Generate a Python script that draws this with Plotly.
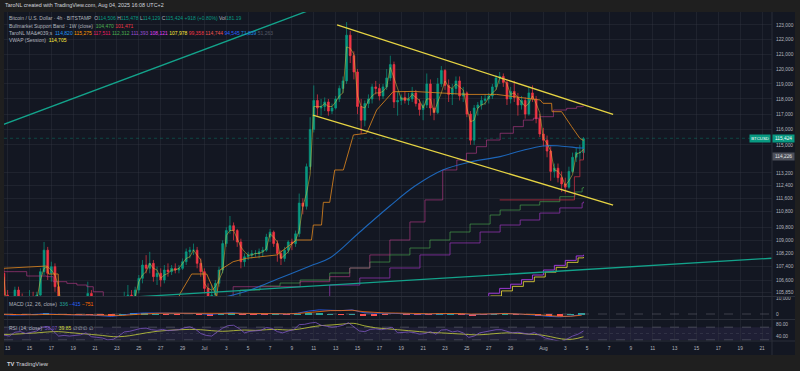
import math
import pandas as pd
import plotly.graph_objects as go

# ---------------- data (prices in thousands of USD) ----------------
CANDLE_START = "2025-06-12 16:00"   # 8h candles
FIRST_OPEN = 107.0
HIGHS = [107.3,106.0,105.4,106.2,106.2,105.8,105.6,106.0,105.9,105.9,
         107.3,108.9,108.6,107.7,107.6,106.5,105.2,105.6,105.3,105.1,
         105.0,105.1,105.3,106.5,106.0,104.0,103.9,103.0,102.5,101.2,
         101.4,101.9,102.8,105.9,106.3,106.0,106.2,106.9,107.8,108.1,
         108.3,107.8,107.4,107.3,107.5,107.6,107.5,107.6,107.5,107.9,
         108.5,108.6,108.8,108.6,107.9,107.3,106.4,106.3,106.6,107.4,
         109.0,109.8,110.5,110.1,109.7,109.1,108.2,108.3,108.4,108.4,
         108.5,108.6,109.4,109.7,109.6,109.0,108.4,108.6,109.0,109.1,
         109.6,111.9,111.6,113.8,116.8,118.9,118.3,118.0,118.1,118.0,
         117.7,118.2,118.9,119.5,123.2,122.6,121.2,120.0,118.0,117.9,
         118.3,119.0,119.2,119.0,119.0,120.0,120.9,120.5,118.5,118.3,
         118.5,118.4,118.8,118.6,118.0,117.9,119.7,119.3,118.0,119.4,
         120.2,120.0,119.3,119.0,119.5,119.5,118.8,118.5,117.2,117.6,
         117.8,118.2,118.3,118.4,119.0,119.6,119.8,119.7,119.3,118.8,
         119.2,118.4,118.2,118.1,118.8,118.9,118.2,117.0,116.1,115.6,
         114.9,113.8,113.8,113.3,112.9,113.6,114.5,114.8,115.0,115.5]
LOWS = [105.2,102.7,103.6,104.6,105.2,104.3,104.6,105.1,104.7,104.9,
        105.5,106.9,106.6,106.5,105.9,103.4,103.6,104.0,104.2,104.2,
        104.1,104.3,104.2,104.9,102.4,103.0,102.5,101.0,99.5,98.2,
        99.3,100.2,101.0,102.2,104.9,105.0,105.2,105.8,106.4,107.0,
        107.0,106.5,106.3,106.2,106.4,106.8,106.9,107.0,107.0,107.2,
        107.5,107.9,108.1,107.3,106.8,105.8,105.3,105.2,105.5,106.2,
        107.0,108.6,109.4,109.0,108.6,107.3,107.4,107.8,107.9,108.0,
        107.9,108.0,108.3,108.9,108.6,107.7,107.5,107.7,108.2,108.4,
        108.6,109.2,110.6,110.9,113.4,115.8,116.9,116.9,117.2,116.9,
        117.0,117.3,117.8,118.4,119.0,120.4,119.3,117.0,115.7,116.2,
        117.4,117.7,118.3,117.9,118.0,118.6,119.2,117.4,116.9,117.6,
        117.7,117.6,117.8,117.5,116.9,116.6,117.4,116.9,116.6,117.0,
        118.8,118.6,117.8,117.6,118.3,117.9,117.8,116.8,115.0,115.0,
        116.9,117.3,117.6,117.7,118.0,118.6,119.0,118.8,117.6,117.7,
        117.8,116.9,117.3,116.7,116.9,117.8,116.4,115.5,114.9,114.2,
        112.7,112.9,112.6,112.0,111.9,112.2,113.2,113.9,114.0,114.1]
CLOSES = [105.7,104.3,104.9,106.0,105.4,104.8,105.5,105.6,105.0,105.7,
          107.1,108.4,107.0,107.4,106.2,104.6,104.9,104.4,104.9,104.5,
          104.8,104.6,105.1,105.8,103.3,103.6,102.9,102.2,100.4,99.6,
          100.9,101.5,102.4,105.4,105.7,105.5,106.0,106.7,107.5,107.3,
          107.6,106.8,107.0,106.6,107.2,107.1,107.3,107.2,107.3,107.7,
          108.3,108.4,108.4,107.6,107.1,106.1,105.6,105.7,106.4,107.2,
          108.8,109.6,109.9,109.6,108.9,107.7,108.0,108.1,108.2,108.2,
          108.3,108.4,109.2,109.5,108.8,108.2,107.9,108.4,108.9,108.8,
          109.4,111.3,111.1,113.6,116.0,117.9,117.4,117.5,117.8,117.2,
          117.4,118.0,118.7,119.2,122.3,120.9,119.8,117.5,116.6,117.7,
          118.0,118.8,118.7,118.2,118.8,119.4,120.3,117.8,117.9,118.1,
          117.9,118.0,118.4,117.7,117.3,117.6,119.0,117.4,117.1,119.0,
          119.9,118.9,118.3,118.7,119.2,118.2,118.4,117.0,115.3,117.4,
          117.6,117.9,118.0,118.2,118.8,119.4,119.5,119.1,118.0,118.5,
          118.1,117.6,117.9,117.0,118.4,118.0,116.7,115.7,115.3,114.6,
          113.3,113.5,112.9,112.5,112.3,113.3,114.2,114.5,114.5,115.4]
VWAP = [106.8,
        104.3,104.5,104.8, 105.6,105.3,105.3, 105.6,105.4,105.4, 106.6,107.3,107.4,
        107.2,106.9,106.2, 104.6,104.6,104.7, 104.6,104.6,104.6, 104.9,105.3,104.8,
        103.5,103.3,102.9, 100.8,100.2,100.3, 101.2,101.6,102.6, 105.6,105.6,105.6,
        106.5,106.9,107.1, 107.6,107.3,107.2, 106.7,106.9,107.0, 107.2,107.2,107.3,
        107.6,107.9,108.0, 108.4,108.1,107.8, 106.4,106.1,106.0, 106.2,106.6,107.1,
        109.3,109.6,109.6, 109.1,108.6,108.3, 108.1,108.1,108.2, 108.2,108.3,108.5,
        109.4,109.2,108.9, 107.9,108.1,108.3, 108.8,109.0,109.6, 111.1,111.9,113.1,
        117.5,117.5,117.5, 117.7,117.5,117.5, 117.8,118.2,118.4, 121.5,121.4,121.0,
        118.2,117.5,117.4, 117.9,118.2,118.4, 118.4,118.5,118.8, 120.1,119.4,118.8,
        118.0,118.0,118.0, 118.3,118.1,117.9, 117.4,118.0,118.0, 117.1,117.8,118.4,
        119.2,118.8,118.7, 119.0,118.8,118.6, 117.4,116.5,116.6, 117.4,117.6,117.7,
        118.1,118.4,118.6, 119.4,119.3,119.0, 118.3,118.4,118.1, 117.8,117.5,117.7,
        118.2,117.7,117.1, 115.4,115.1,114.6, 113.4,113.3,113.0, 112.4,112.7,113.1,
        114.4,114.5,114.7]

# trend lines (date, price k)
TEAL_UP_T = ["2025-06-12 07:00", "2025-07-12 12:00"];  TEAL_UP_V = [116.24, 124.56]
TEAL_LO_T = ["2025-06-20 00:00", "2025-08-21 21:00"];  TEAL_LO_V = [105.41, 107.91]
CH_UP_T = ["2025-07-13 03:00", "2025-08-07 09:00"];    CH_UP_V = [123.0, 116.99]
CH_LO_T = ["2025-07-10 22:00", "2025-08-07 09:00"];    CH_LO_V = [116.94, 111.18]

# MA lines
ORANGE_T = ["2025-06-12 14:00","2025-06-16 14:00","2025-06-16 18:00","2025-06-17 15:00","2025-06-17 17:00",
            "2025-06-21 00:00","2025-06-25 00:00","2025-06-28 12:00","2025-06-28 19:00","2025-06-29 20:00",
            "2025-07-01 05:00","2025-07-02 03:00","2025-07-02 10:00","2025-07-03 15:00","2025-07-04 21:00",
            "2025-07-07 15:00","2025-07-09 10:00","2025-07-10 19:00","2025-07-10 23:00","2025-07-11 17:00",
            "2025-07-11 21:00","2025-07-12 11:00","2025-07-12 22:00","2025-07-13 17:00","2025-07-14 15:00",
            "2025-07-15 20:00","2025-07-16 18:00","2025-07-18 06:00","2025-07-20 02:00","2025-07-25 00:00",
            "2025-07-27 17:00","2025-07-31 17:00","2025-07-31 23:00","2025-08-01 18:00","2025-08-01 19:00",
            "2025-08-02 16:00","2025-08-03 14:00","2025-08-04 08:00","2025-08-04 16:00"]
ORANGE_V = [107.30,107.44,106.96,106.96,105.00,103.8,103.8,105.3,105.81,106.96,
            106.96,105.61,107.20,107.70,107.91,108.11,109.02,109.02,109.94,109.94,
            111.35,111.35,113.39,113.39,115.64,115.75,117.27,118.48,118.50,118.30,
            118.30,117.93,117.71,117.71,117.16,117.16,116.18,115.42,115.28]
PINK_T = ["2025-06-12 14:00","2025-06-13 16:00","2025-06-14 18:00","2025-06-16 14:00","2025-06-17 04:00",
          "2025-06-18 10:00","2025-06-19 08:00","2025-06-20 06:00","2025-06-20 20:00","2025-06-21 18:00",
          "2025-06-26 00:00","2025-07-02 00:00","2025-07-03 15:00","2025-07-09 18:00","2025-07-12 11:00",
          "2025-07-14 07:00","2025-07-16 03:00","2025-07-17 23:00","2025-07-19 19:00","2025-07-21 04:00",
          "2025-07-22 19:00","2025-07-24 02:00","2025-07-24 23:00","2025-07-25 21:00","2025-07-26 19:00",
          "2025-07-28 01:00","2025-07-29 06:00","2025-07-30 04:00","2025-07-31 02:00","2025-07-31 16:00",
          "2025-08-01 22:00","2025-08-03 03:00","2025-08-04 01:00","2025-08-04 13:00","2025-08-04 16:00"]
PINK_V = [107.10,107.10,106.84,106.80,106.50,106.40,106.30,106.20,105.90,105.61,
          105.0,105.5,106.20,106.50,106.80,107.32,108.11,109.02,110.13,111.50,
          113.39,114.03,114.46,114.88,115.31,115.75,116.18,116.61,116.73,116.83,
          117.27,117.38,117.49,117.53,117.51]
GREEN_T = ["2025-07-02 00:00","2025-07-04 06:00","2025-07-06 02:00","2025-07-07 22:00","2025-07-09 18:00",
           "2025-07-12 11:00","2025-07-14 07:00","2025-07-16 03:00","2025-07-17 23:00","2025-07-19 19:00",
           "2025-07-21 15:00","2025-07-23 11:00","2025-07-25 07:00","2025-07-27 03:00","2025-07-28 01:00",
           "2025-07-29 21:00","2025-07-31 16:00","2025-08-02 12:00","2025-08-03 21:00","2025-08-04 13:00",
           "2025-08-04 16:00"]
GREEN_V = [105.5,106.00,106.24,106.42,106.60,107.02,107.32,107.68,108.11,108.53,
           109.02,109.51,110.00,110.56,110.87,111.18,111.39,111.70,112.00,112.25,112.31]
PURPLE_T = ["2025-07-08 00:00","2025-07-12 11:00","2025-07-15 05:00","2025-07-17 23:00","2025-07-20 17:00",
            "2025-07-23 11:00","2025-07-26 05:00","2025-07-28 01:00","2025-07-29 21:00","2025-07-31 16:00",
            "2025-08-02 12:00","2025-08-04 13:00","2025-08-04 16:00"]
PURPLE_V = [105.5,106.30,106.72,107.32,108.11,108.84,109.51,109.94,110.25,110.68,111.00,111.31,111.39]
MAGENTA_T = ["2025-07-20 00:00","2025-07-27 00:00","2025-07-28 00:00","2025-07-29 00:00","2025-07-30 00:00",
             "2025-07-31 00:00","2025-08-01 00:00","2025-08-02 00:00","2025-08-03 00:00","2025-08-04 00:00",
             "2025-08-04 16:00"]
MAGENTA_V = [104.5,105.81,106.10,106.35,106.62,106.90,107.20,107.48,107.78,108.05,108.12]
YELLOW_MA_T = ["2025-07-20 00:00","2025-07-27 04:00","2025-07-28 04:00","2025-07-29 04:00","2025-07-30 04:00",
               "2025-07-31 04:00","2025-08-01 04:00","2025-08-02 04:00","2025-08-03 04:00","2025-08-04 04:00",
               "2025-08-04 16:00"]
YELLOW_MA_V = [104.5,105.65,105.95,106.22,106.50,106.78,107.07,107.36,107.66,107.93,107.98]
RED_T = ["2025-07-28 00:00","2025-08-03 18:00","2025-08-03 20:00","2025-08-04 08:00","2025-08-04 16:00"]
RED_V = [111.50,111.50,112.96,114.03,114.74]
BLUE_T = ["2025-07-03 01:00","2025-07-05 04:00","2025-07-07 22:00","2025-07-10 16:00","2025-07-12 11:00",
          "2025-07-15 05:00","2025-07-17 23:00","2025-07-20 06:00","2025-07-22 19:00","2025-07-25 07:00",
          "2025-07-28 01:00","2025-07-29 21:00","2025-07-31 23:00","2025-08-02 12:00","2025-08-04 13:00",
          "2025-08-04 16:00"]
BLUE_V = [105.61,106.00,106.72,107.44,107.92,109.51,111.12,112.37,113.39,113.90,
          114.24,114.60,114.93,114.93,114.80,114.82]

# MACD (daily samples) and RSI
MACD_START = "2025-06-12 12:00"
MACD = [-350,-700,-550,-400,150,-200,-550,-650,-600,-950,-1500,-700,250,650,650,450,300,400,350,
        -250,150,800,300,100,200,300,0,500,1800,2600,2300,2100,2600,900,550,500,600,200,0,100,450,400,
        250,-450,-200,300,400,50,-200,-800,
        -1500,-1800,-1300,-415]
SIGNAL = [-200,-400,-500,-480,-250,-220,-350,-480,-560,-700,-1000,-900,-400,100,400,500,420,400,380,
          100,100,400,420,250,220,250,150,300,1000,1800,2100,2150,2350,1500,900,650,600,400,200,150,300,380,
          300,-100,-150,100,300,200,-50,-450,
          -1000,-1450,-1400,-751]
HIST = [-150,-300,-50,80,400,20,-200,-170,-40,-250,-500,200,650,550,250,-50,-120,0,-30,
        -350,50,400,-120,-150,-20,50,-150,200,800,800,200,-50,250,-600,-350,-150,0,-200,-200,-50,150,20,
        -50,-350,-50,200,100,-150,-150,-350,
        -500,-350,100,336]
RSI_START = "2025-06-12 16:00"   # 12h samples
RSI = [45,42,54,56,50,55,58,70,72,58, 42,44,42,44,46,52,40,38,36,30,
       32,42,55,57,62,66,67,62,60,63, 59,61,62,68,71,64,50,44,42,55,
       67,75,76,66,52,57,58,60,69,66, 56,52,58,62,78,79,83,85,76,72,
       70,72,76,84,70,58,56,63,65,62, 65,70,52,54,55,53,48,50,56,48,
       61,62,55,58,52,38,42,52,56,58, 62,62,57,52,54,50,48,53,45,36,
       32,28,24,33,42,48,58.07]
RSI_MA_START = "2025-06-12 16:00"  # daily samples
RSI_MA = [47,48,50,52,55,56,53,50,47,44,40,41,46,52,57,60,62,63,62,
          59,57,59,61,60,62,63,61,64,70,75,77,80,82,74,68,65,62,59,56,53,52,50,48,46,47,50,52,51,48,46,
          40,33,32,39.85]

# axis ticks / labels
PRICE_TICKS = [123000,122000,121000,120000,119000,118000,117000,116000,115000,113200,112400,
               111600,110800,109800,109000,108200,107400,106600,105850]
DATE_TICKS = ["2025-06-13","2025-06-15","2025-06-17","2025-06-19","2025-06-21","2025-06-23","2025-06-25",
              "2025-06-27","2025-06-29","2025-07-01","2025-07-03","2025-07-05","2025-07-07","2025-07-09",
              "2025-07-11","2025-07-13","2025-07-15","2025-07-17","2025-07-19","2025-07-21","2025-07-23",
              "2025-07-25","2025-07-27","2025-07-29","2025-08-01","2025-08-03","2025-08-05","2025-08-07",
              "2025-08-09","2025-08-11","2025-08-13","2025-08-15","2025-08-17","2025-08-19","2025-08-21"]
DATE_LABELS = ["13","15","17","19","21","23","25","27","29","Jul","3","5","7","9","11","13","15","17",
               "19","21","23","25","27","29","Aug","3","5","7","9","11","13","15","17","19","21"]
OHLC_TXT = ["114,506","115,478","114,129","115,424"]
CHANGE_TXT = "+918 (+0.80%)"
VOL_TXT = "181.19"
BAND_TXT = ["104,470","101,471"]
MA_TXT = ["114,820","115,275","117,511","112,312","111,393","108,121","107,978","99,358","114,744",
          "94,545","71,839","51,263"]
MA_TXT_COLORS = ["#2196f3","#ff9800","#e91e63","#4caf50","#9c4fd6","#e040fb","#ffeb3b","#f23645",
                 "#ef5350","#2962ff","#1e88e5","#555a66"]
VWAP_TXT = "114,705"
MACD_TXT = ["336","\u2212415","\u2212751"]
RSI_TXT = ["58.07","39.85"]
LAST_PRICE = 115424
MARK_PRICE = 114226

# ---------------- styling ----------------
PANE = "#131722"
OUTER = "#1f1f1f"
GRID = "rgba(54,58,69,0.35)"
SEP = "#2a2e39"
TXT = "#b2b5be"
UP = "#089981"
DN = "#f23645"
FONT = "Liberation Sans, Arial, sans-serif"

K = 1000.0
opens = [FIRST_OPEN] + CLOSES[:-1]
times = pd.date_range(CANDLE_START, periods=len(CLOSES), freq="8h")
macd_t = pd.date_range(MACD_START, periods=len(MACD), freq="D")
rsi_t = pd.date_range(RSI_START, periods=len(RSI), freq="12h")
rsima_t = pd.date_range(RSI_MA_START, periods=len(RSI_MA), freq="D")
X_RANGE = ["2025-06-12 16:06", "2025-08-21 21:42"]

def k(v):
    return [a * K for a in v]

def xp(px):
    return (px - 4) / 768.0

def yp(py):
    return (341 - py) / 329.0

fig = go.Figure()

fig.add_trace(go.Candlestick(
    x=times, open=k(opens), high=k(HIGHS), low=k(LOWS), close=k(CLOSES),
    increasing=dict(line=dict(color=UP, width=0.7), fillcolor=UP),
    decreasing=dict(line=dict(color=DN, width=0.7), fillcolor=DN),
    whiskerwidth=0, hoverinfo="skip", xaxis="x", yaxis="y"))

def line(t, v, color, width=1.0, shape="linear", dash="solid", axis="y", scale=True):
    fig.add_trace(go.Scatter(x=t, y=k(v) if scale else v, mode="lines", hoverinfo="skip",
                             line=dict(color=color, width=width, shape=shape, dash=dash),
                             xaxis="x", yaxis=axis))

line(YELLOW_MA_T, YELLOW_MA_V, "rgba(255,235,59,0.75)", 1.0, "hv")
line(MAGENTA_T, MAGENTA_V, "rgba(170,60,230,0.9)", 1.0, "hv")
line(PURPLE_T, PURPLE_V, "rgba(140,50,170,0.8)", 1.0, "hv")
line(GREEN_T, GREEN_V, "rgba(76,175,80,0.6)", 1.0, "hv")
line(RED_T, RED_V, "rgba(200,50,70,0.75)", 1.0, "hv")
line(PINK_T, PINK_V, "rgba(190,60,140,0.6)", 1.0, "hv")
line(BLUE_T, BLUE_V, "rgba(30,110,200,0.9)", 1.1, "spline")
line(ORANGE_T, ORANGE_V, "rgba(215,130,30,0.85)", 1.0)
line(times, VWAP, "rgba(230,200,60,0.7)", 0.7)
line(TEAL_UP_T, TEAL_UP_V, "#13a38b", 1.3)
line(TEAL_LO_T, TEAL_LO_V, "#13a38b", 1.3)
line(CH_UP_T, CH_UP_V, "#e6d443", 1.3)
line(CH_LO_T, CH_LO_V, "#e6d443", 1.3)
# last price line
fig.add_trace(go.Scatter(x=X_RANGE, y=[LAST_PRICE, LAST_PRICE], mode="lines", hoverinfo="skip",
                         line=dict(color="rgba(8,153,129,0.45)", width=0.8, dash="dot"),
                         xaxis="x", yaxis="y"))

# MACD pane
fig.add_trace(go.Bar(x=macd_t, y=HIST, width=0.6 * 86400000, hoverinfo="skip",
                     marker=dict(color=["#26a69a" if h >= 0 else "#ff5252" for h in HIST], line=dict(width=0)),
                     xaxis="x", yaxis="y2"))
fig.add_trace(go.Scatter(x=X_RANGE, y=[0, 0], mode="lines", hoverinfo="skip",
                         line=dict(color="rgba(120,123,134,0.6)", width=0.7, dash="dash"),
                         xaxis="x", yaxis="y2"))
line(macd_t, MACD, "#2962ff", 0.8, axis="y2", scale=False)
line(macd_t, SIGNAL, "#ff6d00", 0.8, axis="y2", scale=False)

# RSI pane
line(rsima_t, RSI_MA, "#c9d23c", 0.8, "spline", axis="y3", scale=False)
line(rsi_t, RSI, "#7e57c2", 0.8, axis="y3", scale=False)

shapes = [
    dict(type="rect", xref="paper", yref="paper", x0=xp(4), x1=xp(795), y0=yp(355), y1=yp(12),
         fillcolor=PANE, line=dict(width=0), layer="below"),
    dict(type="rect", xref="paper", yref="y3", x0=0, x1=1, y0=30, y1=70,
         fillcolor="rgba(126,87,194,0.12)", line=dict(width=0), layer="below"),
    dict(type="line", xref="paper", yref="y3", x0=0, x1=1, y0=70, y1=70,
         line=dict(color="rgba(120,123,134,0.7)", width=0.7, dash="dash"), layer="below"),
    dict(type="line", xref="paper", yref="y3", x0=0, x1=1, y0=30, y1=30,
         line=dict(color="rgba(120,123,134,0.7)", width=0.7, dash="dash"), layer="below"),
    dict(type="line", xref="paper", yref="y3", x0=0, x1=1, y0=50, y1=50,
         line=dict(color="rgba(120,123,134,0.35)", width=0.6, dash="dot"), layer="below"),
]
for py in (296.5, 319.5, 341):
    shapes.append(dict(type="line", xref="paper", yref="paper", x0=xp(4), x1=xp(795), y0=yp(py), y1=yp(py),
                       line=dict(color=SEP, width=1)))
shapes.append(dict(type="line", xref="paper", yref="paper", x0=1, x1=1, y0=yp(355), y1=yp(12),
                   line=dict(color=SEP, width=1)))

def span(t, c):
    return "<span style='color:%s'>%s</span>" % (c, t)

teal = "#089981"
l1 = ("Bitcoin / U.S. Dollar \u00b7 4h \u00b7 BITSTAMP&nbsp;&nbsp;O" + span(OHLC_TXT[0], teal) +
      " H" + span(OHLC_TXT[1], teal) + " L" + span(OHLC_TXT[2], teal) + " C" + span(OHLC_TXT[3], teal) +
      " " + span(CHANGE_TXT, teal) + " Vol" + span(VOL_TXT, teal))
l2 = ("Bullmarket Support Band \u00b7 1W (close)&nbsp;&nbsp;" + span(BAND_TXT[0], "#4caf50") + " " +
      span(BAND_TXT[1], "#f23645"))
l3 = "TaroNL MA&amp;#039;s&nbsp;&nbsp;" + " ".join(span(t, c) for t, c in zip(MA_TXT, MA_TXT_COLORS))
l4 = "VWAP (Session)&nbsp;&nbsp;" + span(VWAP_TXT, "#ffeb3b")
l5 = ("MACD (12, 26, close)&nbsp;&nbsp;" + span(MACD_TXT[0], "#26a69a") + " " + span(MACD_TXT[1], "#2962ff") +
      " " + span(MACD_TXT[2], "#ff6d00"))
l6 = ("RSI (14, close)&nbsp;&nbsp;" + span(RSI_TXT[0], "#7e57c2") + " " + span(RSI_TXT[1], "#d4dc3a") +
      " \u2205 \u2205 \u2205 \u2205")

def note(text, x, y, size=5.0, color=TXT, **kw):
    d = dict(text=text, xref="paper", yref="paper", x=x, y=y, xanchor="left", yanchor="middle",
             showarrow=False, font=dict(family=FONT, size=size, color=color))
    d.update(kw)
    return d

annotations = [
    note("TaroNL created with TradingView.com, Aug 04, 2025 16:08 UTC+2", xp(3), yp(5), 5.4, "#d1d4dc"),
    note(l1, xp(7), yp(18.5)),
    note(l2, xp(7), yp(25.8)),
    note(l3, xp(7), yp(33.0)),
    note(l4, xp(7), yp(40.3)),
    note(l5, xp(7), yp(304)),
    note(l6, xp(7), yp(327.7)),
    note("<b>TV</b> TradingView", xp(5), yp(363.5), 5.8, "#d1d4dc"),
    dict(text="115,424", xref="paper", yref="y", x=1, y=math.log10(LAST_PRICE), xanchor="left",
         yanchor="middle", showarrow=False, bgcolor=teal, borderpad=1.2, width=19,
         font=dict(family=FONT, size=4.8, color="#ffffff")),
    dict(text="BTCUSD", xref="paper", yref="y", x=1, y=math.log10(LAST_PRICE), xanchor="right",
         yanchor="middle", showarrow=False, bgcolor=teal, borderpad=1.2, xshift=-1,
         font=dict(family=FONT, size=4.3, color="#ffffff")),
    dict(text="114,226", xref="paper", yref="y", x=1, y=math.log10(MARK_PRICE), xanchor="left",
         yanchor="middle", showarrow=False, bgcolor="#4d505a", borderpad=1.2, width=19,
         font=dict(family=FONT, size=4.8, color="#e8e8e8")),
]

tickfont = dict(family=FONT, size=4.8, color=TXT)
fig.update_layout(
    width=800, height=371,
    margin=dict(l=4, r=28, t=12, b=30),
    paper_bgcolor=OUTER, plot_bgcolor=PANE,
    showlegend=False, bargap=0,
    xaxis=dict(type="date", range=X_RANGE, domain=[0, 1], anchor="y3",
               tickvals=DATE_TICKS, ticktext=DATE_LABELS, tickfont=tickfont, ticks="",
               showgrid=True, gridcolor=GRID, gridwidth=1, zeroline=False, showline=False,
               rangeslider=dict(visible=False), ticklabelstandoff=3),
    yaxis=dict(type="log", domain=[yp(296.5), 1], range=[5.023738, 5.093072], side="right", anchor="x",
               tickvals=PRICE_TICKS, ticktext=["{:,}".format(v) for v in PRICE_TICKS], tickfont=tickfont,
               ticks="", showgrid=True, gridcolor=GRID, gridwidth=1, zeroline=False, showline=False,
               ticklabelstandoff=3),
    yaxis2=dict(domain=[yp(319.5), yp(296.5)], range=[-3437.5, 10937.5], side="right", anchor="x",
                tickvals=[0, 10000], ticktext=["0", "10,000"], tickfont=tickfont, ticks="",
                showgrid=False, zeroline=False, showline=False, ticklabelstandoff=3),
    yaxis3=dict(domain=[0, yp(319.5)], range=[26.46, 94.17], side="right", anchor="x",
                tickvals=[80, 40], ticktext=["80.00", "40.00"], tickfont=tickfont, ticks="",
                showgrid=False, zeroline=False, showline=False, ticklabelstandoff=3),
    shapes=shapes,
    annotations=annotations,
)

fig.write_html("out.html", config={"displayModeBar": False},
               post_script="document.body.style.margin='0';document.body.style.overflow='hidden';"
                           "document.body.style.background='" + OUTER + "';")
